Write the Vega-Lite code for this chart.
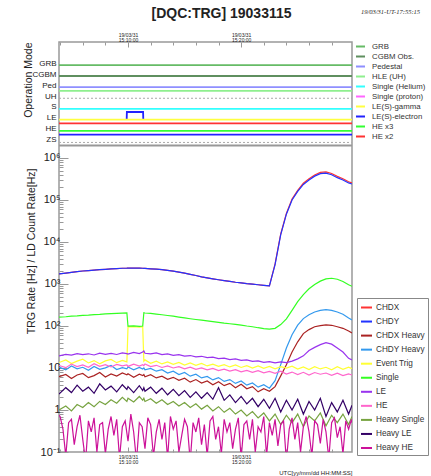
{
  "$schema": "https://vega.github.io/schema/vega-lite/v6.json",
  "width": 293,
  "height": 410,
  "autosize": {"type": "none"},
  "padding": {"left": 59, "top": 42, "right": 79, "bottom": 24},
  "background": "white",
  "config": {
    "view": {"stroke": "#999999", "strokeWidth": 1.5},
    "font": "Liberation Sans",
    "axis": {"labelOverlap": false, "labelFlush": false, "labelSeparation": -200}
  },
  "title": {"text": "[DQC:TRG] 19033115", "fontSize": 14, "fontWeight": "bold", "font": "Liberation Sans", "color": "#222222", "anchor": "middle", "dx": 16, "offset": -13},
  "datasets": {
    "modes": [
      {"t": "2019-03-31T15:03:54Z", "mode": "GRB", "lv": 6.86, "seg": 1},
      {"t": "2019-03-31T15:29:48Z", "mode": "GRB", "lv": 6.86, "seg": 1},
      {"t": "2019-03-31T15:03:54Z", "mode": "CGBM Obs.", "lv": 5.85, "seg": 1},
      {"t": "2019-03-31T15:29:48Z", "mode": "CGBM Obs.", "lv": 5.85, "seg": 1},
      {"t": "2019-03-31T15:03:54Z", "mode": "Pedestal", "lv": 4.83, "seg": 1},
      {"t": "2019-03-31T15:29:48Z", "mode": "Pedestal", "lv": 4.83, "seg": 1},
      {"t": "2019-03-31T15:03:54Z", "mode": "HLE (UH)", "lv": 4.48, "seg": 1},
      {"t": "2019-03-31T15:29:48Z", "mode": "HLE (UH)", "lv": 4.48, "seg": 1},
      {"t": "2019-03-31T15:03:54Z", "mode": "Single (Helium)", "lv": 2.81, "seg": 1},
      {"t": "2019-03-31T15:29:48Z", "mode": "Single (Helium)", "lv": 2.81, "seg": 1},
      {"t": "2019-03-31T15:03:54Z", "mode": "LE(S)-electron", "lv": 0.43, "seg": 1},
      {"t": "2019-03-31T15:29:48Z", "mode": "LE(S)-electron", "lv": 0.43, "seg": 1},
      {"t": "2019-03-31T15:09:53Z", "mode": "LE(S)-electron", "lv": 1.82, "seg": 2},
      {"t": "2019-03-31T15:09:54Z", "mode": "LE(S)-electron", "lv": 2.52, "seg": 2},
      {"t": "2019-03-31T15:11:20Z", "mode": "LE(S)-electron", "lv": 2.52, "seg": 2},
      {"t": "2019-03-31T15:11:21Z", "mode": "LE(S)-electron", "lv": 1.82, "seg": 2},
      {"t": "2019-03-31T15:03:54Z", "mode": "LE(S)-gamma", "lv": 1.82, "seg": 1},
      {"t": "2019-03-31T15:29:48Z", "mode": "LE(S)-gamma", "lv": 1.82, "seg": 1},
      {"t": "2019-03-31T15:03:54Z", "mode": "HE x2", "lv": 1.47, "seg": 1},
      {"t": "2019-03-31T15:29:48Z", "mode": "HE x2", "lv": 1.47, "seg": 1},
      {"t": "2019-03-31T15:03:54Z", "mode": "HE x3", "lv": 0.78, "seg": 1},
      {"t": "2019-03-31T15:29:48Z", "mode": "HE x3", "lv": 0.78, "seg": 1}
    ],
    "refs": [
      {"t": "2019-03-31T15:03:54Z", "lv": 3.79, "r": "UH"},
      {"t": "2019-03-31T15:29:48Z", "lv": 3.79, "r": "UH"},
      {"t": "2019-03-31T15:03:54Z", "lv": -0.3, "r": "ZS"},
      {"t": "2019-03-31T15:29:48Z", "lv": -0.3, "r": "ZS"}
    ],
    "rates": [
      {"t": "2019-03-31T15:03:54Z", "CHDX": 1740, "CHDY": 1740, "CHDX Heavy": 6.2, "CHDY Heavy": 10.5, "Event Trig": 13.5, "Single": 163, "LE": 19.5, "HE": 11.5, "Heavy Single": 1.0, "Heavy LE": 2.4},
      {"t": "2019-03-31T15:04:30Z", "CHDX": 1820, "CHDY": 1820, "CHDX Heavy": 7.0, "CHDY Heavy": 9.0, "Event Trig": 15.5, "Single": 166, "LE": 21.0, "HE": 10.2, "Heavy Single": 1.25, "Heavy LE": 3.4},
      {"t": "2019-03-31T15:05:00Z", "CHDX": 1900, "CHDY": 1900, "CHDX Heavy": 5.6, "CHDY Heavy": 11.2, "Event Trig": 12.8, "Single": 171, "LE": 20.2, "HE": 12.4, "Heavy Single": 0.95, "Heavy LE": 2.6},
      {"t": "2019-03-31T15:05:30Z", "CHDX": 1980, "CHDY": 1980, "CHDX Heavy": 6.8, "CHDY Heavy": 9.6, "Event Trig": 14.6, "Single": 174, "LE": 22.0, "HE": 10.8, "Heavy Single": 1.35, "Heavy LE": 3.9},
      {"t": "2019-03-31T15:06:00Z", "CHDX": 2040, "CHDY": 2040, "CHDX Heavy": 7.4, "CHDY Heavy": 10.4, "Event Trig": 16.2, "Single": 179, "LE": 20.8, "HE": 11.9, "Heavy Single": 1.15, "Heavy LE": 2.8},
      {"t": "2019-03-31T15:06:30Z", "CHDX": 2090, "CHDY": 2090, "CHDX Heavy": 5.9, "CHDY Heavy": 8.8, "Event Trig": 13.2, "Single": 182, "LE": 21.8, "HE": 10.4, "Heavy Single": 1.5, "Heavy LE": 3.5},
      {"t": "2019-03-31T15:07:00Z", "CHDX": 2140, "CHDY": 2140, "CHDX Heavy": 6.6, "CHDY Heavy": 10.9, "Event Trig": 15.0, "Single": 187, "LE": 20.4, "HE": 12.6, "Heavy Single": 1.2, "Heavy LE": 2.5},
      {"t": "2019-03-31T15:07:30Z", "CHDX": 2190, "CHDY": 2190, "CHDX Heavy": 7.8, "CHDY Heavy": 9.3, "Event Trig": 12.6, "Single": 189, "LE": 22.6, "HE": 11.0, "Heavy Single": 1.6, "Heavy LE": 4.2},
      {"t": "2019-03-31T15:08:00Z", "CHDX": 2240, "CHDY": 2240, "CHDX Heavy": 6.1, "CHDY Heavy": 10.1, "Event Trig": 14.8, "Single": 194, "LE": 21.2, "HE": 12.0, "Heavy Single": 1.35, "Heavy LE": 3.0},
      {"t": "2019-03-31T15:08:30Z", "CHDX": 2290, "CHDY": 2290, "CHDX Heavy": 7.2, "CHDY Heavy": 11.5, "Event Trig": 16.0, "Single": 197, "LE": 22.4, "HE": 10.6, "Heavy Single": 1.75, "Heavy LE": 3.7},
      {"t": "2019-03-31T15:09:00Z", "CHDX": 2330, "CHDY": 2330, "CHDX Heavy": 6.4, "CHDY Heavy": 9.2, "Event Trig": 13.4, "Single": 200, "LE": 21.0, "HE": 12.2, "Heavy Single": 1.45, "Heavy LE": 2.7},
      {"t": "2019-03-31T15:09:30Z", "CHDX": 2370, "CHDY": 2370, "CHDX Heavy": 7.6, "CHDY Heavy": 10.2, "Event Trig": 15.2, "Single": 203, "LE": 23.0, "HE": 11.2, "Heavy Single": 2.0, "Heavy LE": 4.0},
      {"t": "2019-03-31T15:09:54Z", "CHDX": 2390, "CHDY": 2390, "CHDX Heavy": 6.9, "CHDY Heavy": 9.6, "Event Trig": 14.0, "Single": 205, "LE": 22.0, "HE": 11.8, "Heavy Single": 1.6, "Heavy LE": 3.1},
      {"t": "2019-03-31T15:10:00Z", "CHDX": 2400, "CHDY": 2400, "CHDX Heavy": 7.3, "CHDY Heavy": 10.6, "Event Trig": 95, "Single": 99, "LE": 21.5, "HE": 10.9, "Heavy Single": 1.9, "Heavy LE": 3.6},
      {"t": "2019-03-31T15:10:30Z", "CHDX": 2400, "CHDY": 2400, "CHDX Heavy": 6.0, "CHDY Heavy": 9.1, "Event Trig": 97, "Single": 101, "LE": 23.5, "HE": 12.3, "Heavy Single": 1.55, "Heavy LE": 2.6},
      {"t": "2019-03-31T15:11:00Z", "CHDX": 2380, "CHDY": 2380, "CHDX Heavy": 7.1, "CHDY Heavy": 10.3, "Event Trig": 94, "Single": 98, "LE": 22.0, "HE": 11.1, "Heavy Single": 2.1, "Heavy LE": 3.8},
      {"t": "2019-03-31T15:11:18Z", "CHDX": 2370, "CHDY": 2370, "CHDX Heavy": 6.6, "CHDY Heavy": 9.5, "Event Trig": 96, "Single": 100, "LE": 24.0, "HE": 12.0, "Heavy Single": 1.7, "Heavy LE": 2.9},
      {"t": "2019-03-31T15:11:24Z", "CHDX": 2360, "CHDY": 2360, "CHDX Heavy": 7.0, "CHDY Heavy": 10.0, "Event Trig": 14.5, "Single": 206, "LE": 25.5, "HE": 11.4, "Heavy Single": 1.9, "Heavy LE": 3.4},
      {"t": "2019-03-31T15:11:30Z", "CHDX": 2350, "CHDY": 2350, "CHDX Heavy": 6.2, "CHDY Heavy": 9.0, "Event Trig": 15.6, "Single": 204, "LE": 22.4, "HE": 12.5, "Heavy Single": 1.6, "Heavy LE": 2.8},
      {"t": "2019-03-31T15:12:00Z", "CHDX": 2300, "CHDY": 2300, "CHDX Heavy": 6.9, "CHDY Heavy": 9.8, "Event Trig": 13.0, "Single": 200, "LE": 21.6, "HE": 10.8, "Heavy Single": 1.85, "Heavy LE": 3.5},
      {"t": "2019-03-31T15:12:30Z", "CHDX": 2250, "CHDY": 2250, "CHDX Heavy": 5.8, "CHDY Heavy": 8.4, "Event Trig": 14.6, "Single": 192, "LE": 22.8, "HE": 11.6, "Heavy Single": 1.45, "Heavy LE": 2.5},
      {"t": "2019-03-31T15:13:00Z", "CHDX": 2190, "CHDY": 2190, "CHDX Heavy": 6.4, "CHDY Heavy": 9.1, "Event Trig": 12.5, "Single": 185, "LE": 20.8, "HE": 10.3, "Heavy Single": 1.75, "Heavy LE": 3.3},
      {"t": "2019-03-31T15:13:30Z", "CHDX": 2110, "CHDY": 2110, "CHDX Heavy": 5.4, "CHDY Heavy": 7.6, "Event Trig": 14.0, "Single": 178, "LE": 21.6, "HE": 11.2, "Heavy Single": 1.35, "Heavy LE": 2.3},
      {"t": "2019-03-31T15:14:00Z", "CHDX": 2020, "CHDY": 2020, "CHDX Heavy": 6.0, "CHDY Heavy": 8.4, "Event Trig": 12.2, "Single": 171, "LE": 20.0, "HE": 10.0, "Heavy Single": 1.6, "Heavy LE": 3.1},
      {"t": "2019-03-31T15:14:30Z", "CHDX": 1920, "CHDY": 1920, "CHDX Heavy": 5.1, "CHDY Heavy": 7.0, "Event Trig": 13.6, "Single": 163, "LE": 20.8, "HE": 10.8, "Heavy Single": 1.25, "Heavy LE": 2.2},
      {"t": "2019-03-31T15:15:00Z", "CHDX": 1810, "CHDY": 1810, "CHDX Heavy": 5.7, "CHDY Heavy": 7.8, "Event Trig": 11.8, "Single": 156, "LE": 19.2, "HE": 9.6, "Heavy Single": 1.5, "Heavy LE": 2.9},
      {"t": "2019-03-31T15:15:30Z", "CHDX": 1700, "CHDY": 1700, "CHDX Heavy": 4.6, "CHDY Heavy": 6.4, "Event Trig": 13.2, "Single": 149, "LE": 19.8, "HE": 10.5, "Heavy Single": 1.15, "Heavy LE": 2.0},
      {"t": "2019-03-31T15:16:00Z", "CHDX": 1590, "CHDY": 1590, "CHDX Heavy": 5.3, "CHDY Heavy": 7.1, "Event Trig": 11.6, "Single": 143, "LE": 18.4, "HE": 9.3, "Heavy Single": 1.4, "Heavy LE": 2.7},
      {"t": "2019-03-31T15:16:30Z", "CHDX": 1480, "CHDY": 1480, "CHDX Heavy": 4.4, "CHDY Heavy": 5.8, "Event Trig": 12.9, "Single": 138, "LE": 19.0, "HE": 10.1, "Heavy Single": 1.05, "Heavy LE": 1.9},
      {"t": "2019-03-31T15:17:00Z", "CHDX": 1400, "CHDY": 1400, "CHDX Heavy": 4.9, "CHDY Heavy": 6.3, "Event Trig": 11.2, "Single": 132, "LE": 17.6, "HE": 9.0, "Heavy Single": 1.3, "Heavy LE": 2.6},
      {"t": "2019-03-31T15:17:30Z", "CHDX": 1330, "CHDY": 1330, "CHDX Heavy": 4.0, "CHDY Heavy": 5.2, "Event Trig": 12.4, "Single": 127, "LE": 18.2, "HE": 9.8, "Heavy Single": 0.95, "Heavy LE": 1.8},
      {"t": "2019-03-31T15:18:00Z", "CHDX": 1260, "CHDY": 1260, "CHDX Heavy": 4.7, "CHDY Heavy": 5.9, "Event Trig": 10.9, "Single": 122, "LE": 16.8, "HE": 8.7, "Heavy Single": 1.2, "Heavy LE": 3.4},
      {"t": "2019-03-31T15:18:30Z", "CHDX": 1200, "CHDY": 1200, "CHDX Heavy": 3.8, "CHDY Heavy": 4.8, "Event Trig": 12.0, "Single": 117, "LE": 17.2, "HE": 9.4, "Heavy Single": 0.88, "Heavy LE": 1.7},
      {"t": "2019-03-31T15:19:00Z", "CHDX": 1150, "CHDY": 1150, "CHDX Heavy": 4.3, "CHDY Heavy": 5.3, "Event Trig": 10.6, "Single": 113, "LE": 15.9, "HE": 8.4, "Heavy Single": 1.1, "Heavy LE": 2.3},
      {"t": "2019-03-31T15:19:30Z", "CHDX": 1100, "CHDY": 1100, "CHDX Heavy": 3.4, "CHDY Heavy": 4.3, "Event Trig": 11.8, "Single": 109, "LE": 16.4, "HE": 9.1, "Heavy Single": 0.8, "Heavy LE": 1.5},
      {"t": "2019-03-31T15:20:00Z", "CHDX": 1060, "CHDY": 1060, "CHDX Heavy": 4.1, "CHDY Heavy": 4.9, "Event Trig": 10.3, "Single": 105, "LE": 15.2, "HE": 8.1, "Heavy Single": 1.0, "Heavy LE": 2.1},
      {"t": "2019-03-31T15:20:30Z", "CHDX": 1020, "CHDY": 1020, "CHDX Heavy": 3.2, "CHDY Heavy": 3.9, "Event Trig": 11.4, "Single": 100, "LE": 15.6, "HE": 8.8, "Heavy Single": 0.72, "Heavy LE": 1.4},
      {"t": "2019-03-31T15:21:00Z", "CHDX": 990, "CHDY": 990, "CHDX Heavy": 3.6, "CHDY Heavy": 4.4, "Event Trig": 10.0, "Single": 96, "LE": 14.4, "HE": 7.9, "Heavy Single": 0.92, "Heavy LE": 1.9},
      {"t": "2019-03-31T15:21:30Z", "CHDX": 960, "CHDY": 960, "CHDX Heavy": 2.7, "CHDY Heavy": 3.5, "Event Trig": 11.2, "Single": 91, "LE": 14.8, "HE": 8.6, "Heavy Single": 0.65, "Heavy LE": 1.2},
      {"t": "2019-03-31T15:22:00Z", "CHDX": 930, "CHDY": 930, "CHDX Heavy": 3.2, "CHDY Heavy": 4.0, "Event Trig": 9.8, "Single": 87, "LE": 13.6, "HE": 7.7, "Heavy Single": 0.85, "Heavy LE": 1.8},
      {"t": "2019-03-31T15:22:30Z", "CHDX": 905, "CHDY": 905, "CHDX Heavy": 2.8, "CHDY Heavy": 3.3, "Event Trig": 10.9, "Single": 84, "LE": 14.2, "HE": 8.3, "Heavy Single": 0.55, "Heavy LE": 1.1},
      {"t": "2019-03-31T15:23:00Z", "CHDX": 3000, "CHDY": 2900, "CHDX Heavy": 3.6, "CHDY Heavy": 5.0, "Event Trig": 9.6, "Single": 88, "LE": 13.2, "HE": 7.5, "Heavy Single": 0.8, "Heavy LE": 1.9},
      {"t": "2019-03-31T15:23:30Z", "CHDX": 15500, "CHDY": 15000, "CHDX Heavy": 6.5, "CHDY Heavy": 12, "Event Trig": 10.8, "Single": 108, "LE": 14.0, "HE": 8.4, "Heavy Single": 0.45, "Heavy LE": 0.9},
      {"t": "2019-03-31T15:24:00Z", "CHDX": 48000, "CHDY": 46000, "CHDX Heavy": 12, "CHDY Heavy": 30, "Event Trig": 9.9, "Single": 148, "LE": 13.4, "HE": 7.2, "Heavy Single": 0.75, "Heavy LE": 1.7},
      {"t": "2019-03-31T15:24:30Z", "CHDX": 105000, "CHDY": 100000, "CHDX Heavy": 24, "CHDY Heavy": 62, "Event Trig": 11.0, "Single": 235, "LE": 14.6, "HE": 8.0, "Heavy Single": 0.5, "Heavy LE": 1.0},
      {"t": "2019-03-31T15:25:00Z", "CHDX": 170000, "CHDY": 160000, "CHDX Heavy": 42, "CHDY Heavy": 105, "Event Trig": 9.4, "Single": 380, "LE": 16.5, "HE": 7.0, "Heavy Single": 0.8, "Heavy LE": 1.8},
      {"t": "2019-03-31T15:25:30Z", "CHDX": 250000, "CHDY": 235000, "CHDX Heavy": 66, "CHDY Heavy": 150, "Event Trig": 10.6, "Single": 560, "LE": 19.5, "HE": 7.9, "Heavy Single": 0.4, "Heavy LE": 0.8},
      {"t": "2019-03-31T15:26:00Z", "CHDX": 320000, "CHDY": 300000, "CHDX Heavy": 82, "CHDY Heavy": 185, "Event Trig": 9.2, "Single": 770, "LE": 26, "HE": 6.8, "Heavy Single": 0.72, "Heavy LE": 1.6},
      {"t": "2019-03-31T15:26:30Z", "CHDX": 395000, "CHDY": 370000, "CHDX Heavy": 96, "CHDY Heavy": 215, "Event Trig": 10.8, "Single": 970, "LE": 31, "HE": 7.8, "Heavy Single": 0.55, "Heavy LE": 1.0},
      {"t": "2019-03-31T15:27:00Z", "CHDX": 455000, "CHDY": 425000, "CHDX Heavy": 102, "CHDY Heavy": 235, "Event Trig": 9.5, "Single": 1170, "LE": 36, "HE": 7.1, "Heavy Single": 0.85, "Heavy LE": 1.9},
      {"t": "2019-03-31T15:27:30Z", "CHDX": 465000, "CHDY": 435000, "CHDX Heavy": 106, "CHDY Heavy": 245, "Event Trig": 10.4, "Single": 1320, "LE": 40, "HE": 7.6, "Heavy Single": 0.42, "Heavy LE": 0.7},
      {"t": "2019-03-31T15:28:00Z", "CHDX": 428000, "CHDY": 400000, "CHDX Heavy": 104, "CHDY Heavy": 235, "Event Trig": 9.1, "Single": 1370, "LE": 37, "HE": 6.7, "Heavy Single": 0.75, "Heavy LE": 1.5},
      {"t": "2019-03-31T15:28:30Z", "CHDX": 365000, "CHDY": 340000, "CHDX Heavy": 96, "CHDY Heavy": 215, "Event Trig": 10.7, "Single": 1300, "LE": 30, "HE": 7.5, "Heavy Single": 0.5, "Heavy LE": 0.9},
      {"t": "2019-03-31T15:29:00Z", "CHDX": 320000, "CHDY": 300000, "CHDX Heavy": 88, "CHDY Heavy": 190, "Event Trig": 9.3, "Single": 1150, "LE": 24, "HE": 6.6, "Heavy Single": 0.8, "Heavy LE": 1.7},
      {"t": "2019-03-31T15:29:30Z", "CHDX": 272000, "CHDY": 255000, "CHDX Heavy": 76, "CHDY Heavy": 155, "Event Trig": 10.5, "Single": 960, "LE": 17, "HE": 7.2, "Heavy Single": 0.45, "Heavy LE": 0.8},
      {"t": "2019-03-31T15:29:48Z", "CHDX": 256000, "CHDY": 240000, "CHDX Heavy": 68, "CHDY Heavy": 140, "Event Trig": 9.6, "Single": 880, "LE": 15.5, "HE": 6.8, "Heavy Single": 0.7, "Heavy LE": 1.3}
    ],
    "heavyhe": [
      {"t": "2019-03-31T15:03:54Z", "Heavy HE": 0.75},
      {"t": "2019-03-31T15:04:00Z", "Heavy HE": 0.7},
      {"t": "2019-03-31T15:04:15Z", "Heavy HE": 0.35},
      {"t": "2019-03-31T15:04:30Z", "Heavy HE": 0.08},
      {"t": "2019-03-31T15:04:45Z", "Heavy HE": 0.5},
      {"t": "2019-03-31T15:05:00Z", "Heavy HE": 0.6},
      {"t": "2019-03-31T15:05:15Z", "Heavy HE": 0.15},
      {"t": "2019-03-31T15:05:30Z", "Heavy HE": 0.4},
      {"t": "2019-03-31T15:05:45Z", "Heavy HE": 0.75},
      {"t": "2019-03-31T15:06:00Z", "Heavy HE": 0.2},
      {"t": "2019-03-31T15:06:15Z", "Heavy HE": 0.06},
      {"t": "2019-03-31T15:06:30Z", "Heavy HE": 0.55},
      {"t": "2019-03-31T15:06:45Z", "Heavy HE": 0.3},
      {"t": "2019-03-31T15:07:00Z", "Heavy HE": 0.65},
      {"t": "2019-03-31T15:07:15Z", "Heavy HE": 0.1},
      {"t": "2019-03-31T15:07:30Z", "Heavy HE": 0.45},
      {"t": "2019-03-31T15:07:45Z", "Heavy HE": 0.5},
      {"t": "2019-03-31T15:08:00Z", "Heavy HE": 0.09},
      {"t": "2019-03-31T15:08:15Z", "Heavy HE": 0.35},
      {"t": "2019-03-31T15:08:30Z", "Heavy HE": 0.7},
      {"t": "2019-03-31T15:08:45Z", "Heavy HE": 0.25},
      {"t": "2019-03-31T15:09:00Z", "Heavy HE": 0.6},
      {"t": "2019-03-31T15:09:15Z", "Heavy HE": 0.07},
      {"t": "2019-03-31T15:09:30Z", "Heavy HE": 0.4},
      {"t": "2019-03-31T15:09:45Z", "Heavy HE": 0.55},
      {"t": "2019-03-31T15:10:00Z", "Heavy HE": 0.18},
      {"t": "2019-03-31T15:10:15Z", "Heavy HE": 0.8},
      {"t": "2019-03-31T15:10:30Z", "Heavy HE": 0.3},
      {"t": "2019-03-31T15:10:45Z", "Heavy HE": 0.06},
      {"t": "2019-03-31T15:11:00Z", "Heavy HE": 0.5},
      {"t": "2019-03-31T15:11:15Z", "Heavy HE": 0.4},
      {"t": "2019-03-31T15:11:30Z", "Heavy HE": 0.12},
      {"t": "2019-03-31T15:11:45Z", "Heavy HE": 0.65},
      {"t": "2019-03-31T15:12:00Z", "Heavy HE": 0.45},
      {"t": "2019-03-31T15:12:15Z", "Heavy HE": 0.08},
      {"t": "2019-03-31T15:12:30Z", "Heavy HE": 0.3},
      {"t": "2019-03-31T15:12:45Z", "Heavy HE": 0.6},
      {"t": "2019-03-31T15:13:00Z", "Heavy HE": 0.2},
      {"t": "2019-03-31T15:13:15Z", "Heavy HE": 0.5},
      {"t": "2019-03-31T15:13:30Z", "Heavy HE": 0.07},
      {"t": "2019-03-31T15:13:45Z", "Heavy HE": 0.7},
      {"t": "2019-03-31T15:14:00Z", "Heavy HE": 0.35},
      {"t": "2019-03-31T15:14:15Z", "Heavy HE": 0.55},
      {"t": "2019-03-31T15:14:30Z", "Heavy HE": 0.1},
      {"t": "2019-03-31T15:14:45Z", "Heavy HE": 0.25},
      {"t": "2019-03-31T15:15:00Z", "Heavy HE": 0.6},
      {"t": "2019-03-31T15:15:15Z", "Heavy HE": 0.4},
      {"t": "2019-03-31T15:15:30Z", "Heavy HE": 0.06},
      {"t": "2019-03-31T15:15:45Z", "Heavy HE": 0.5},
      {"t": "2019-03-31T15:16:00Z", "Heavy HE": 0.3},
      {"t": "2019-03-31T15:16:15Z", "Heavy HE": 0.65},
      {"t": "2019-03-31T15:16:30Z", "Heavy HE": 0.15},
      {"t": "2019-03-31T15:16:45Z", "Heavy HE": 0.45},
      {"t": "2019-03-31T15:17:00Z", "Heavy HE": 0.08},
      {"t": "2019-03-31T15:17:15Z", "Heavy HE": 0.55},
      {"t": "2019-03-31T15:17:30Z", "Heavy HE": 0.7},
      {"t": "2019-03-31T15:17:45Z", "Heavy HE": 0.2},
      {"t": "2019-03-31T15:18:00Z", "Heavy HE": 0.4},
      {"t": "2019-03-31T15:18:15Z", "Heavy HE": 0.09},
      {"t": "2019-03-31T15:18:30Z", "Heavy HE": 0.6},
      {"t": "2019-03-31T15:18:45Z", "Heavy HE": 0.3},
      {"t": "2019-03-31T15:19:00Z", "Heavy HE": 0.5},
      {"t": "2019-03-31T15:19:15Z", "Heavy HE": 0.12},
      {"t": "2019-03-31T15:19:30Z", "Heavy HE": 0.35},
      {"t": "2019-03-31T15:19:45Z", "Heavy HE": 0.65},
      {"t": "2019-03-31T15:20:00Z", "Heavy HE": 0.07},
      {"t": "2019-03-31T15:20:15Z", "Heavy HE": 0.45},
      {"t": "2019-03-31T15:20:30Z", "Heavy HE": 0.55},
      {"t": "2019-03-31T15:20:45Z", "Heavy HE": 0.2},
      {"t": "2019-03-31T15:21:00Z", "Heavy HE": 0.6},
      {"t": "2019-03-31T15:21:15Z", "Heavy HE": 0.1},
      {"t": "2019-03-31T15:21:30Z", "Heavy HE": 0.4},
      {"t": "2019-03-31T15:21:45Z", "Heavy HE": 0.3},
      {"t": "2019-03-31T15:22:00Z", "Heavy HE": 0.7},
      {"t": "2019-03-31T15:22:15Z", "Heavy HE": 0.08},
      {"t": "2019-03-31T15:22:30Z", "Heavy HE": 0.5},
      {"t": "2019-03-31T15:22:45Z", "Heavy HE": 0.25},
      {"t": "2019-03-31T15:23:00Z", "Heavy HE": 0.6},
      {"t": "2019-03-31T15:23:15Z", "Heavy HE": 0.14},
      {"t": "2019-03-31T15:23:30Z", "Heavy HE": 0.45},
      {"t": "2019-03-31T15:23:45Z", "Heavy HE": 0.55},
      {"t": "2019-03-31T15:24:00Z", "Heavy HE": 0.06},
      {"t": "2019-03-31T15:24:15Z", "Heavy HE": 0.35},
      {"t": "2019-03-31T15:24:30Z", "Heavy HE": 0.65},
      {"t": "2019-03-31T15:24:45Z", "Heavy HE": 0.2},
      {"t": "2019-03-31T15:25:00Z", "Heavy HE": 0.5},
      {"t": "2019-03-31T15:25:15Z", "Heavy HE": 0.1},
      {"t": "2019-03-31T15:25:30Z", "Heavy HE": 0.4},
      {"t": "2019-03-31T15:25:45Z", "Heavy HE": 0.7},
      {"t": "2019-03-31T15:26:00Z", "Heavy HE": 0.3},
      {"t": "2019-03-31T15:26:15Z", "Heavy HE": 0.08},
      {"t": "2019-03-31T15:26:30Z", "Heavy HE": 0.55},
      {"t": "2019-03-31T15:26:45Z", "Heavy HE": 0.45},
      {"t": "2019-03-31T15:27:00Z", "Heavy HE": 0.16},
      {"t": "2019-03-31T15:27:15Z", "Heavy HE": 0.6},
      {"t": "2019-03-31T15:27:30Z", "Heavy HE": 0.3},
      {"t": "2019-03-31T15:27:45Z", "Heavy HE": 0.07},
      {"t": "2019-03-31T15:28:00Z", "Heavy HE": 0.5},
      {"t": "2019-03-31T15:28:15Z", "Heavy HE": 0.65},
      {"t": "2019-03-31T15:28:30Z", "Heavy HE": 0.22},
      {"t": "2019-03-31T15:28:45Z", "Heavy HE": 0.4},
      {"t": "2019-03-31T15:29:00Z", "Heavy HE": 0.09},
      {"t": "2019-03-31T15:29:15Z", "Heavy HE": 0.55},
      {"t": "2019-03-31T15:29:30Z", "Heavy HE": 0.35},
      {"t": "2019-03-31T15:29:45Z", "Heavy HE": 0.6},
      {"t": "2019-03-31T15:29:48Z", "Heavy HE": 0.5}
    ]
  },
  "layer": [
    {
      "layer": [
        {
          "data": {"name": "modes"},
          "mark": {"type": "line", "strokeWidth": 1.8},
          "encoding": {
            "x": {
              "field": "t", "type": "temporal",
              "scale": {"type": "utc", "domain": [1554044634000, 1554046188000]},
              "axis": {
                "orient": "top",
                "values": [1554044640000, 1554044760000, 1554044880000, 1554045000000, 1554045120000, 1554045240000, 1554045360000, 1554045480000, 1554045600000, 1554045720000, 1554045840000, 1554045960000, 1554046080000],
                "labelExpr": "utcminutes(datum.value) % 10 == 0 ? [utcFormat(datum.value, '%y/%m/%d'), utcFormat(datum.value, '%H:%M:%S')] : ''",
                "labelFontSize": 5, "labelLineHeight": 5, "labelPadding": 10, "labelColor": "#222222",
                "labelAngle": 0, "labelOverlap": false, "labelFlush": false, "labelSeparation": -200,
                "tickColor": "#999999",
                "tickSize": {"condition": {"test": "utcminutes(datum.value) % 10 == 0", "value": -5}, "value": -3},
                "domain": false, "grid": false,
                "title": "19/03/31-UT-17:55:15",
                "titleFont": "Liberation Serif", "titleFontStyle": "italic", "titleFontWeight": "normal",
                "titleFontSize": 6.5, "titleColor": "#222222",
                "titleX": 331, "titleY": -31, "titleAlign": "center", "titleBaseline": "middle"
              }
            },
            "y": {
              "field": "lv", "type": "quantitative",
              "scale": {"domain": [-0.58, 8.8], "range": [108, 0]},
              "axis": {
                "orient": "left",
                "values": [0, 1, 2, 3, 4, 5, 6, 7],
                "labelExpr": "['ZS','HE','LE','S','UH','Ped','CGBM','GRB'][datum.value]",
                "ticks": false, "domain": false, "grid": false,
                "labelFontSize": 8, "labelPadding": 3, "labelColor": "#222222", "labelOverlap": false,
                "title": "Operation Mode", "titleFontSize": 10.5, "titleFontWeight": "normal", "titleColor": "#222222",
                "titleX": -31, "titleY": 0, "titleAlign": "right", "titleBaseline": "middle", "titleAngle": 270
              }
            },
            "color": {
              "field": "mode", "type": "nominal",
              "scale": {
                "domain": ["GRB", "CGBM Obs.", "Pedestal", "HLE (UH)", "Single (Helium)", "Single (proton)", "LE(S)-gamma", "LE(S)-electron", "HE x3", "HE x2"],
                "range": ["#66bb66", "#5f8f5f", "#8f8fff", "#8fef8f", "#33ffff", "#ff66ff", "#ffff40", "#2222ff", "#33ff33", "#ff3333"]
              },
              "legend": {
                "orient": "none", "legendX": 296, "legendY": -1, "title": null,
                "symbolType": "stroke", "symbolStrokeWidth": 2, "symbolSize": 81,
                "labelFontSize": 7.8, "labelColor": "#333333", "rowPadding": 0, "labelOffset": 6, "padding": 0
              }
            },
            "detail": {"field": "seg"}
          }
        },
        {
          "data": {"name": "refs"},
          "mark": {"type": "line", "color": "#aaaaaa", "strokeWidth": 1, "strokeDash": [2, 2]},
          "encoding": {
            "x": {
              "field": "t", "type": "temporal",
              "scale": {"type": "utc", "domain": [1554044634000, 1554046188000]},
              "axis": {
                "orient": "top",
                "values": [1554044640000, 1554044760000, 1554044880000, 1554045000000, 1554045120000, 1554045240000, 1554045360000, 1554045480000, 1554045600000, 1554045720000, 1554045840000, 1554045960000, 1554046080000],
                "labelExpr": "utcminutes(datum.value) % 10 == 0 ? [utcFormat(datum.value, '%y/%m/%d'), utcFormat(datum.value, '%H:%M:%S')] : ''",
                "labelFontSize": 5, "labelLineHeight": 5, "labelPadding": 10, "labelColor": "#222222",
                "labelAngle": 0, "labelOverlap": false, "labelFlush": false, "labelSeparation": -200,
                "tickColor": "#999999",
                "tickSize": {"condition": {"test": "utcminutes(datum.value) % 10 == 0", "value": -5}, "value": -3},
                "domain": false, "grid": false,
                "title": "19/03/31-UT-17:55:15",
                "titleFont": "Liberation Serif", "titleFontStyle": "italic", "titleFontWeight": "normal",
                "titleFontSize": 6.5, "titleColor": "#222222",
                "titleX": 331, "titleY": -31, "titleAlign": "center", "titleBaseline": "middle"
              }
            },
            "y": {
              "field": "lv", "type": "quantitative",
              "scale": {"domain": [-0.58, 8.8], "range": [108, 0]},
              "axis": {
                "orient": "left",
                "values": [0, 1, 2, 3, 4, 5, 6, 7],
                "labelExpr": "['ZS','HE','LE','S','UH','Ped','CGBM','GRB'][datum.value]",
                "ticks": false, "domain": false, "grid": false,
                "labelFontSize": 8, "labelPadding": 3, "labelColor": "#222222", "labelOverlap": false,
                "title": "Operation Mode", "titleFontSize": 10.5, "titleFontWeight": "normal", "titleColor": "#222222",
                "titleX": -31, "titleY": 0, "titleAlign": "right", "titleBaseline": "middle", "titleAngle": 270
              }
            },
            "detail": {"field": "r"}
          }
        },
        {
          "data": {"values": [{}]},
          "mark": {"type": "rule", "color": "#999999", "strokeWidth": 2},
          "encoding": {"y": {"datum": -0.58}}
        }
      ]
    },
    {
      "layer": [
        {
          "data": {"name": "rates"},
          "transform": [
            {"fold": ["CHDX", "CHDY", "CHDX Heavy", "CHDY Heavy", "Event Trig", "Single", "LE", "HE", "Heavy Single", "Heavy LE"], "as": ["series", "v"]}
          ],
          "mark": {"type": "line", "strokeWidth": 1.2, "clip": true},
          "encoding": {
            "x": {
              "field": "t", "type": "temporal",
              "scale": {"type": "utc", "domain": [1554044634000, 1554046188000]},
              "axis": {
                "orient": "bottom",
                "values": [1554044640000, 1554044760000, 1554044880000, 1554045000000, 1554045120000, 1554045240000, 1554045360000, 1554045480000, 1554045600000, 1554045720000, 1554045840000, 1554045960000, 1554046080000],
                "labelExpr": "utcminutes(datum.value) % 10 == 0 ? [utcFormat(datum.value, '%y/%m/%d'), utcFormat(datum.value, '%H:%M:%S')] : ''",
                "labelFontSize": 5, "labelLineHeight": 5, "labelPadding": 7.5, "labelColor": "#222222",
                "labelAngle": 0, "labelOverlap": false, "labelFlush": false, "labelSeparation": -200,
                "tickColor": "#999999",
                "tickSize": {"condition": {"test": "utcminutes(datum.value) % 10 == 0", "value": -5}, "value": -3},
                "domain": false, "grid": false,
                "title": "UTC[yy/mm/dd HH:MM:SS]",
                "titleFontSize": 6, "titleFontWeight": "normal", "titleColor": "#222222",
                "titleX": 293, "titleY": 20, "titleAlign": "right", "titleBaseline": "middle"
              }
            },
            "y": {
              "field": "v", "type": "quantitative",
              "scale": {"type": "log", "domain": [0.1, 1550000], "range": [410, 108]},
              "axis": {
                "orient": "left",
                "values": [0.1, 0.2, 0.3, 0.4, 0.5, 0.6, 0.7, 0.8, 0.9, 1, 2, 3, 4, 5, 6, 7, 8, 9, 10, 20, 30, 40, 50, 60, 70, 80, 90, 100, 200, 300, 400, 500, 600, 700, 800, 900, 1000, 2000, 3000, 4000, 5000, 6000, 7000, 8000, 9000, 10000, 20000, 30000, 40000, 50000, 60000, 70000, 80000, 90000, 100000, 200000, 300000, 400000, 500000, 600000, 700000, 800000, 900000, 1000000],
                "labelExpr": "datum.value == 0.1 ? '10⁻¹' : datum.value == 1 ? '1' : datum.value == 10 ? '10' : datum.value == 100 ? '10²' : datum.value == 1000 ? '10³' : datum.value == 10000 ? '10⁴' : datum.value == 100000 ? '10⁵' : datum.value == 1000000 ? '10⁶' : ''",
                "labelFontSize": 11, "labelPadding": 8, "labelColor": "#222222", "labelOverlap": false, "labelFlush": false, "labelBound": false, "labelSeparation": -200,
                "tickColor": "#999999",
                "tickSize": {"condition": {"test": "indexof([0.1, 1, 10, 100, 1000, 10000, 100000, 1000000], datum.value) >= 0", "value": -9}, "value": -4},
                "domain": false, "grid": false,
                "title": "TRG Rate [Hz] / LD Count Rate[Hz]", "titleFontSize": 10.5, "titleFontWeight": "normal", "titleColor": "#222222",
                "titleX": -28, "titleY": 126, "titleAlign": "right", "titleBaseline": "middle", "titleAngle": 270
              }
            },
            "color": {
              "field": "series", "type": "nominal",
              "scale": {
                "domain": ["CHDX", "CHDY", "CHDX Heavy", "CHDY Heavy", "Event Trig", "Single", "LE", "HE", "Heavy Single", "Heavy LE", "Heavy HE"],
                "range": ["#ff3333", "#2233ff", "#aa2222", "#3399ee", "#ffff33", "#33ff22", "#9933ee", "#ff66cc", "#77a340", "#330066", "#cc1199"]
              },
              "legend": {
                "orient": "none", "legendX": 298, "legendY": 256, "title": null,
                "symbolType": "stroke", "symbolStrokeWidth": 2, "symbolSize": 121,
                "labelFontSize": 8.2, "labelColor": "#333333", "rowPadding": 3.05, "labelOffset": 3, "padding": 3,
                "strokeColor": "#888888", "fillColor": "white"
              }
            }
          }
        },
        {
          "data": {"name": "heavyhe"},
          "transform": [
            {"fold": ["Heavy HE"], "as": ["series", "v"]}
          ],
          "mark": {"type": "line", "strokeWidth": 1.2, "clip": true},
          "encoding": {
            "x": {
              "field": "t", "type": "temporal",
              "scale": {"type": "utc", "domain": [1554044634000, 1554046188000]},
              "axis": {
                "orient": "bottom",
                "values": [1554044640000, 1554044760000, 1554044880000, 1554045000000, 1554045120000, 1554045240000, 1554045360000, 1554045480000, 1554045600000, 1554045720000, 1554045840000, 1554045960000, 1554046080000],
                "labelExpr": "utcminutes(datum.value) % 10 == 0 ? [utcFormat(datum.value, '%y/%m/%d'), utcFormat(datum.value, '%H:%M:%S')] : ''",
                "labelFontSize": 5, "labelLineHeight": 5, "labelPadding": 7.5, "labelColor": "#222222",
                "labelAngle": 0, "labelOverlap": false, "labelFlush": false, "labelSeparation": -200,
                "tickColor": "#999999",
                "tickSize": {"condition": {"test": "utcminutes(datum.value) % 10 == 0", "value": -5}, "value": -3},
                "domain": false, "grid": false,
                "title": "UTC[yy/mm/dd HH:MM:SS]",
                "titleFontSize": 6, "titleFontWeight": "normal", "titleColor": "#222222",
                "titleX": 293, "titleY": 20, "titleAlign": "right", "titleBaseline": "middle"
              }
            },
            "y": {
              "field": "v", "type": "quantitative",
              "scale": {"type": "log", "domain": [0.1, 1550000], "range": [410, 108]},
              "axis": {
                "orient": "left",
                "values": [0.1, 0.2, 0.3, 0.4, 0.5, 0.6, 0.7, 0.8, 0.9, 1, 2, 3, 4, 5, 6, 7, 8, 9, 10, 20, 30, 40, 50, 60, 70, 80, 90, 100, 200, 300, 400, 500, 600, 700, 800, 900, 1000, 2000, 3000, 4000, 5000, 6000, 7000, 8000, 9000, 10000, 20000, 30000, 40000, 50000, 60000, 70000, 80000, 90000, 100000, 200000, 300000, 400000, 500000, 600000, 700000, 800000, 900000, 1000000],
                "labelExpr": "datum.value == 0.1 ? '10⁻¹' : datum.value == 1 ? '1' : datum.value == 10 ? '10' : datum.value == 100 ? '10²' : datum.value == 1000 ? '10³' : datum.value == 10000 ? '10⁴' : datum.value == 100000 ? '10⁵' : datum.value == 1000000 ? '10⁶' : ''",
                "labelFontSize": 11, "labelPadding": 8, "labelColor": "#222222", "labelOverlap": false, "labelFlush": false, "labelBound": false, "labelSeparation": -200,
                "tickColor": "#999999",
                "tickSize": {"condition": {"test": "indexof([0.1, 1, 10, 100, 1000, 10000, 100000, 1000000], datum.value) >= 0", "value": -9}, "value": -4},
                "domain": false, "grid": false,
                "title": "TRG Rate [Hz] / LD Count Rate[Hz]", "titleFontSize": 10.5, "titleFontWeight": "normal", "titleColor": "#222222",
                "titleX": -28, "titleY": 126, "titleAlign": "right", "titleBaseline": "middle", "titleAngle": 270
              }
            },
            "color": {"field": "series", "type": "nominal"}
          }
        }
      ]
    }
  ],
  "resolve": {
    "scale": {"y": "independent", "color": "independent"},
    "axis": {"x": "independent", "y": "independent"},
    "legend": {"color": "independent"}
  }
}
